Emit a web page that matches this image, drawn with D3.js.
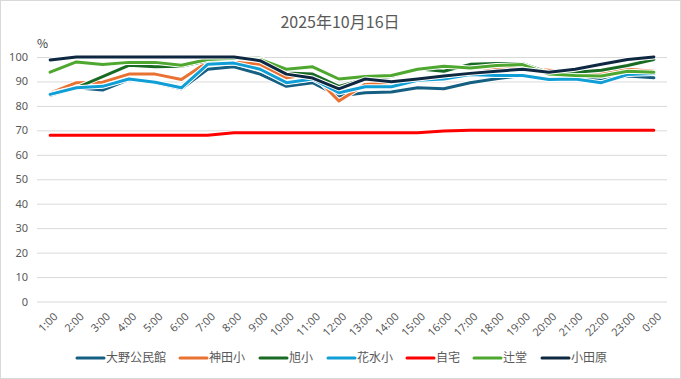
<!DOCTYPE html>
<html><head><meta charset="utf-8">
<script src="https://cdn.jsdelivr.net/npm/d3@7"></script>
<style>
html,body{margin:0;padding:0;background:#fff;}
svg{display:block;font-family:"Noto Sans CJK JP","Noto Sans",sans-serif;}
</style></head>
<body>
<svg id="chart" width="681" height="379"></svg>
<script>
const categories = ["1:00","2:00","3:00","4:00","5:00","6:00","7:00","8:00","9:00","10:00","11:00","12:00","13:00","14:00","15:00","16:00","17:00","18:00","19:00","20:00","21:00","22:00","23:00","0:00"];
const seriesNames = ["大野公民館","神田小","旭小","花水小","自宅","辻堂","小田原"];
const seriesColors = ["#156082","#E97132","#196B24","#0F9ED5","#FF0000","#4EA72E","#0E2841"];
const oono    = [84.3,87.4,86.5,90.8,89.5,87,95,96,93,88,89.5,84,85.4,85.7,87.4,87,89.5,91.1,92.4,91,91.5,90.5,92.2,91.5];
const kanda   = [85.2,89.5,89.7,93,93,90.8,98,98,97,91.5,93,82,88.8,89.5,90.8,91,93.3,95,95.5,94.6,93.8,93.2,95,94.2];
const asahi   = [85,87.4,92,96.6,96,96.2,98.5,99.5,99.5,93.5,93,88,91,92,95.2,94.2,97,97.3,97.3,93.6,93.8,94.6,96.5,99];
const hanamizu= [84.7,87.4,88,91,89.7,87.4,97,97.5,95,89.5,91,85.4,87.8,87.8,90.5,91,92.8,92.4,92.4,90.8,91,89.5,92.8,93.2];
const jitaku  = [68,68,68,68,68,68,68,69,69,69,69,69,69,69,69,69.7,70,70,70,70,70,70,70,70];
const tsujido = [93.8,98,96.9,97.8,97.8,96.6,99,99.5,99,95,96,91,92,92.4,95,96.2,95.5,96.5,96.9,93,92.4,92.2,94.2,93.8];
const odawara = [98.8,100,100,100,100,100,100,100,98.5,93,91.4,87,91,89.9,91,92.2,93.3,94.2,95,93.8,95,97,99,100];
const seriesValues = [oono,kanda,asahi,hanamizu,jitaku,tsujido,odawara];
const yTicks = [0,10,20,30,40,50,60,70,80,90,100];
const titleText = "2025年10月16日";
const unitText = "%";

const svg = d3.select("#chart");
svg.append("rect").attr("x",0.5).attr("y",0.5).attr("width",680).attr("height",378)
  .attr("fill","#fff").attr("stroke","#D9D9D9");

const pLeft = 37, pRight = 667, pTop = 57, pBottom = 301.5;
const x = d3.scalePoint().domain(categories).range([pLeft, pRight]).padding(0.5);
const y = d3.scaleLinear().domain([0,100]).range([pBottom, pTop]);

svg.append("text").attr("x",340).attr("y",28).attr("text-anchor","middle")
  .attr("font-size",16).attr("fill","#595959").text(titleText);
svg.append("text").attr("x",37).attr("y",48).attr("font-size",12).attr("fill","#404040").text(unitText);

const yAxis = d3.axisLeft(y).tickValues(yTicks).tickSize(-(pRight-pLeft)).tickPadding(9);
const gy = svg.append("g").attr("transform",`translate(${pLeft},0)`).call(yAxis);
gy.select(".domain").remove();
gy.selectAll(".tick line").attr("stroke","#D9D9D9");
gy.selectAll(".tick text").attr("font-size",11).attr("fill","#595959").attr("font-family","Noto Sans, sans-serif");

const xAxis = d3.axisBottom(x).tickSize(0).tickPadding(0);
const gx = svg.append("g").attr("transform",`translate(0,${pBottom})`).call(xAxis);
gx.select(".domain").remove();
gx.selectAll(".tick text").attr("font-size",11).attr("fill","#595959")
  .attr("font-family","Noto Sans, sans-serif")
  .attr("text-anchor","end").attr("dy","0.35em")
  .attr("transform","translate(5,13) rotate(-45)");

const line = d3.line().x((d,i)=>x(categories[i])).y(d=>y(d));
seriesValues.forEach((vals,k)=>{
  svg.append("path").datum(vals).attr("d",line).attr("fill","none")
    .attr("stroke","#fff").attr("stroke-width",5).attr("stroke-linejoin","round").attr("stroke-linecap","round");
  svg.append("path").datum(vals).attr("d",line).attr("fill","none")
    .attr("stroke",seriesColors[k]).attr("stroke-width",3).attr("stroke-linejoin","round").attr("stroke-linecap","round");
});

const legendX = [77,180,260,328,407,474,542];
const lg = svg.append("g");
seriesNames.forEach((n,k)=>{
  const g = lg.append("g").attr("transform",`translate(${legendX[k]},358)`);
  g.append("line").attr("x1",0).attr("x2",27).attr("y1",0).attr("y2",0)
    .attr("stroke",seriesColors[k]).attr("stroke-width",3).attr("stroke-linecap","round");
  g.append("text").attr("x",29).attr("y",0).attr("dy","0.35em").attr("font-size",12).attr("fill","#595959").text(n);
});
</script>
</body></html>
